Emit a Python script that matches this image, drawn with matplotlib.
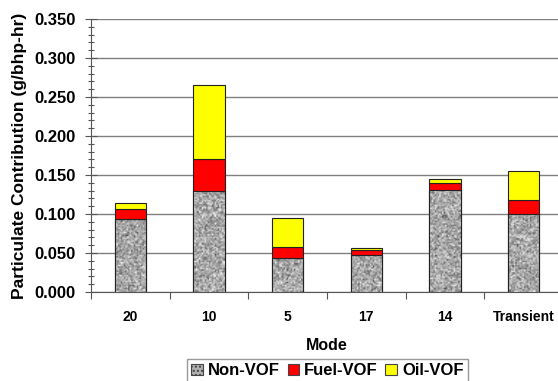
import numpy as np
import matplotlib
matplotlib.use("Agg")
import matplotlib.pyplot as plt
from matplotlib.patches import Patch

plt.rcParams['font.family'] = ['Liberation Sans', 'DejaVu Sans']
plt.rcParams['font.weight'] = 'bold'

modes = ["20", "10", "5", "17", "14", "Transient"]
non_vof = [0.093, 0.130, 0.044, 0.048, 0.131, 0.100]
fuel_vof = [0.013, 0.040, 0.0135, 0.006, 0.009, 0.0175]
oil_vof = [0.0085, 0.095, 0.038, 0.003, 0.0045, 0.037]
series_names = ["Non-VOF", "Fuel-VOF", "Oil-VOF"]
yticks = [0.0, 0.05, 0.1, 0.15, 0.2, 0.25, 0.3, 0.35]

fig = plt.figure(figsize=(5.58, 3.81), dpi=100)
ax = fig.add_axes([91 / 558, 89 / 381, 472 / 558, 273 / 381])

x = np.arange(len(modes))
width = 0.40
edge = dict(edgecolor="#222222", linewidth=0.8)

# speckled granite texture for the base segment
rng = np.random.default_rng(7)

base_bars = ax.bar(x, non_vof, width, color="#a8a8a8", zorder=3, **edge)
for b in base_bars:
    x0, y0 = b.get_x(), b.get_y()
    rows = max(2, int(b.get_height() * 780 / 1.4))
    noise = rng.normal(0.66, 0.13, (rows, 22))
    noise = np.clip(noise, 0.3, 0.95)
    im = ax.imshow(noise, cmap="gray", vmin=0, vmax=1, aspect="auto",
                   extent=(x0, x0 + b.get_width(), y0, y0 + b.get_height()),
                   interpolation="bilinear", zorder=3.5)
    im.set_clip_path(b)
    outline = plt.Rectangle((x0, y0), b.get_width(), b.get_height(),
                            fill=False, zorder=4, **edge)
    ax.add_patch(outline)

bottom2 = np.array(non_vof)
ax.bar(x, fuel_vof, width, bottom=bottom2, color="#ff0000", zorder=4, **edge)
bottom3 = bottom2 + np.array(fuel_vof)
ax.bar(x, oil_vof, width, bottom=bottom3, color="#ffff00", zorder=4, **edge)

ax.set_xlim(-0.5, len(modes) - 0.5)
ax.set_ylim(0, 0.35)
ax.set_yticks(yticks)
ax.set_yticklabels([f"{v:.3f}" for v in yticks], fontsize=12, fontweight="bold")
ax.set_yticks(np.arange(0, 0.3501, 0.01), minor=True)
ax.tick_params(axis="y", which="major", direction="inout", length=8, width=0.8, color="#555555", pad=7)
ax.tick_params(axis="y", which="minor", direction="inout", length=5, width=0.8, color="#555555")

ax.set_xticks(x)
ax.set_xticklabels(modes, fontsize=10, fontweight="bold")
ax.set_xticks(np.arange(-0.5, len(modes), 1.0), minor=True)
ax.tick_params(axis="x", which="major", length=0, pad=13)
ax.tick_params(axis="x", which="minor", direction="out", length=5, width=0.8, color="#555555")

ax.yaxis.grid(True, which="major", color="#808080", linewidth=1.0, zorder=0)
ax.set_axisbelow(True)
for s in ["top", "right"]:
    ax.spines[s].set_visible(False)
for s in ["left", "bottom"]:
    ax.spines[s].set_color("#555555")
    ax.spines[s].set_linewidth(0.8)

ax.set_xlabel("Mode", fontsize=11.5, fontweight="bold", labelpad=10)
ax.set_ylabel("Particulate Contribution (g/bhp-hr)", fontsize=12.5, fontweight="bold", labelpad=5)

handles = [
    Patch(facecolor="#b0b0b0", edgecolor="#444444", hatch="....", linewidth=0.8),
    Patch(facecolor="#ff0000", edgecolor="#444444", linewidth=0.8),
    Patch(facecolor="#ffff00", edgecolor="#444444", linewidth=0.8),
]
leg = fig.legend(handles, series_names, loc="upper center", bbox_to_anchor=(327.5 / 558, 22 / 381),
                 ncol=3, frameon=True, fancybox=False, fontsize=12,
                 handlelength=0.7, handleheight=0.7, handletextpad=0.3,
                 columnspacing=0.45, borderpad=0.25, borderaxespad=0)
leg.get_frame().set_edgecolor("#808080")
leg.get_frame().set_linewidth(1.0)
for t in leg.get_texts():
    t.set_fontweight("bold")

fig.savefig("out.png", dpi=100)
